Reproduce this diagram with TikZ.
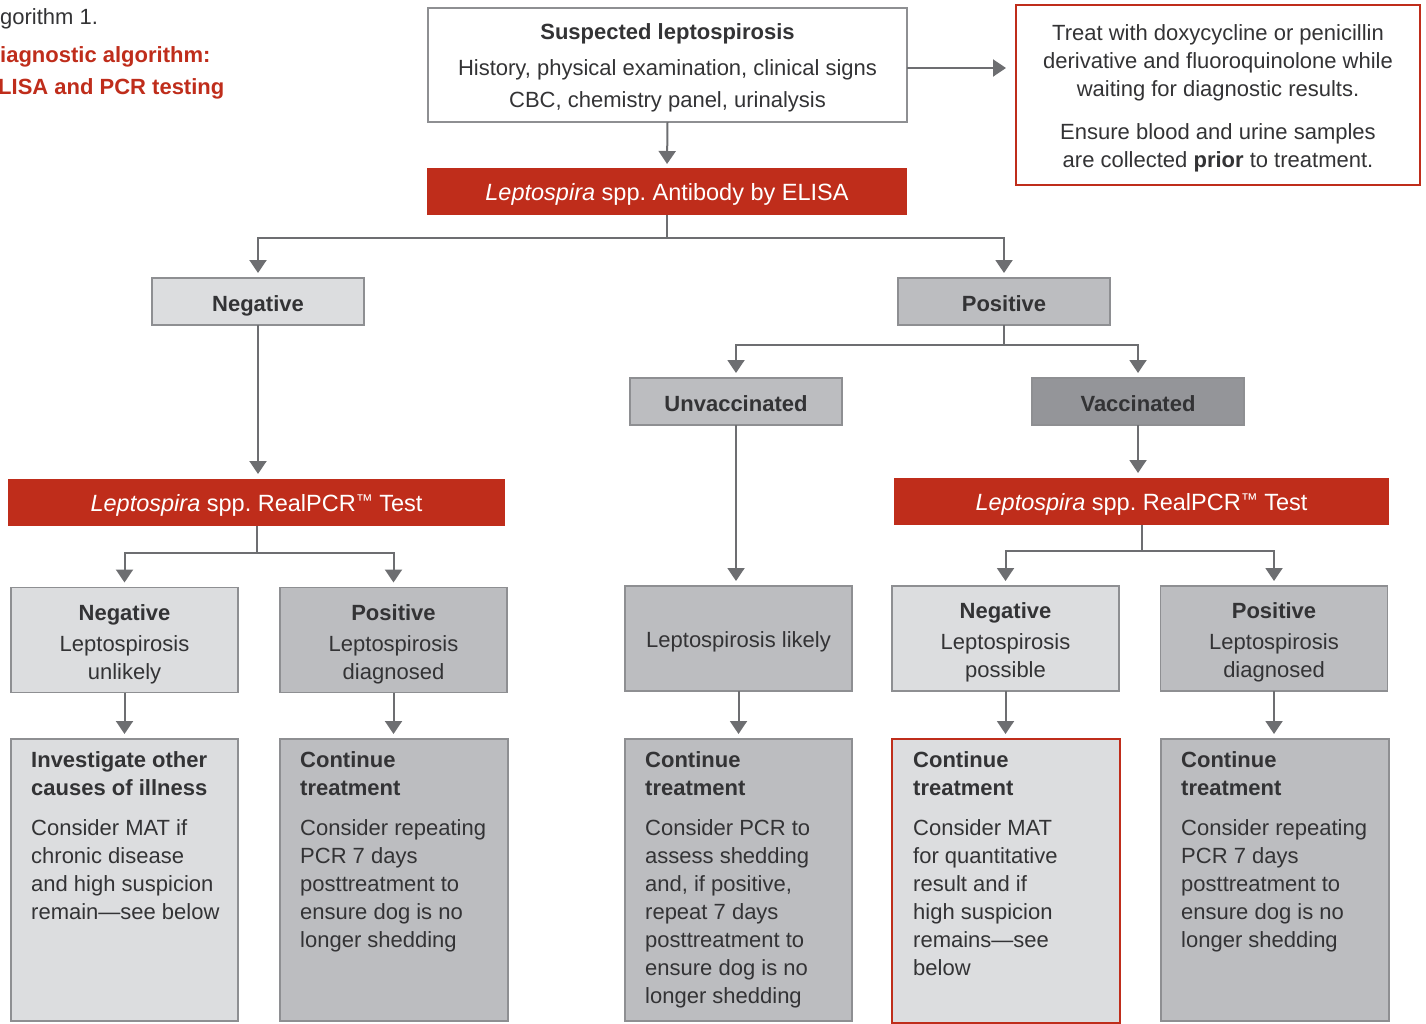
\documentclass[tikz,border=0pt]{standalone}
\usepackage{fontspec}
\setmainfont{Liberation Sans}
\usetikzlibrary{arrows.meta,calc}
\definecolor{ired}{HTML}{BF2D1B}
\definecolor{glight}{HTML}{DCDDDF}
\definecolor{gmid}{HTML}{BCBDC0}
\definecolor{gdark}{HTML}{949599}
\definecolor{bordc}{HTML}{8E8F92}
\definecolor{linec}{HTML}{6D6E71}
\definecolor{txt}{HTML}{333335}
\frenchspacing
\newcommand{\tmark}{{\fontsize{17pt}{17pt}\selectfont\raisebox{4.5pt}{™}}}
\begin{document}
\begin{tikzpicture}[x=1pt,y=-1pt,
  every node/.style={font=\fontsize{22pt}{28pt}\selectfont, text=txt},
  box/.style={draw=bordc, line width=1.5pt, inner sep=0pt, outer sep=0pt},
  redbox/.style={fill=ired, draw=none, inner sep=0pt, outer sep=0pt, text=white, font=\fontsize{23.5pt}{28pt}\selectfont},
  redframe/.style={draw=ired, line width=2pt, inner sep=0pt, outer sep=0pt},
  arr/.style={draw=linec, line width=2pt, -{Triangle[width=17pt,length=13pt]}, shorten >=5pt},
  plain/.style={draw=linec, line width=2pt},
  btxt/.style={anchor=north west, inner sep=0pt, align=left},
  ctxt/.style={inner sep=0pt, align=center},
  ltxt/.style={inner sep=0pt, anchor=base},
  rtxt/.style={inner sep=0pt, text=white, font=\fontsize{23.5pt}{28pt}\selectfont}
]
\useasboundingbox (0,0) rectangle (1426,1023);

% Title
\node[anchor=base west, inner sep=0pt] (t1) at (0,24) {gorithm 1.};
\node[anchor=base west, inner sep=0pt, text=ired, font=\fontsize{22pt}{28pt}\selectfont\bfseries] (t2) at (0,62) {iagnostic algorithm:};
\node[anchor=base west, inner sep=0pt, text=ired, font=\fontsize{22pt}{28pt}\selectfont\bfseries] (t3) at (-2,94) {LISA and PCR testing};

% Top
\node[box, fill=white, minimum width=479pt, minimum height=114pt] (susp) at (667.5,65) {};
\node[ctxt, font=\fontsize{22pt}{32pt}\selectfont] (susptxt) at (667.5,68) {\textbf{Suspected leptospirosis}\\[4pt]History, physical examination, clinical signs\\CBC, chemistry panel, urinalysis};

\node[redframe, fill=white, minimum width=404pt, minimum height=180pt] (treat) at (1218,95) {};
\node[ctxt] (treattxt) at (1218,98) {Treat with doxycycline or penicillin\\derivative and fluoroquinolone while\\waiting for diagnostic results.\\[15pt]Ensure blood and urine samples\\are collected \textbf{prior} to treatment.};

\node[redbox, minimum width=480pt, minimum height=47pt] (elisa) at (667,191.5) {};
\node[rtxt] (elisat) at (667,194) {\textit{Leptospira} spp. Antibody by ELISA};

% Level 1
\node[box, fill=glight, minimum width=212pt, minimum height=47pt] (neg1) at (258,301.5) {};
\node[ltxt] (neg1t) at (258,311) {\textbf{Negative}};
\node[box, fill=gmid, minimum width=212pt, minimum height=47pt] (pos1) at (1004,301.5) {};
\node[ltxt] (pos1t) at (1004,311) {\textbf{Positive}};

% Level 2
\node[box, fill=gmid, minimum width=212pt, minimum height=47pt] (unvac) at (736,401.5) {};
\node[ltxt] (unvact) at (736,411) {\textbf{Unvaccinated}};
\node[box, fill=gdark, minimum width=212pt, minimum height=47pt] (vac) at (1138,401.5) {};
\node[ltxt] (vact) at (1138,411) {\textbf{Vaccinated}};

% PCR boxes
\node[redbox, minimum width=497pt, minimum height=47pt] (pcrl) at (256.5,502.5) {};
\node[rtxt] (pcrlt) at (256.5,505) {\textit{Leptospira} spp. RealPCR\tmark\ Test};
\node[redbox, minimum width=495pt, minimum height=47pt] (pcrr) at (1141.5,501.5) {};
\node[rtxt] (pcrrt) at (1141.5,504) {\textit{Leptospira} spp. RealPCR\tmark\ Test};

% Row 3
\node[box, fill=glight, minimum width=227pt, minimum height=105pt] (r1) at (124.5,640) {};
\node[box, fill=gmid, minimum width=227pt, minimum height=105pt] (r2) at (393.5,640) {};
\node[box, fill=gmid, minimum width=227pt, minimum height=105pt] (r3) at (738.5,638.5) {};
\node[box, fill=glight, minimum width=227pt, minimum height=105pt] (r4) at (1005.5,638.5) {};
\node[box, fill=gmid, minimum width=227pt, minimum height=105pt] (r5) at (1274,638.5) {};

\node[ctxt] (r1t) at (124.5,644) {\textbf{Negative}\\[3pt]Leptospirosis\\unlikely};
\node[ctxt] (r2t) at (393.5,644) {\textbf{Positive}\\[3pt]Leptospirosis\\diagnosed};
\node[ctxt] (r3t) at (738.5,642) {Leptospirosis likely};
\node[ctxt] (r4t) at (1005.5,642) {\textbf{Negative}\\[3pt]Leptospirosis\\possible};
\node[ctxt] (r5t) at (1274,642) {\textbf{Positive}\\[3pt]Leptospirosis\\diagnosed};

% Row 4
\node[box, fill=glight, minimum width=227pt, minimum height=282pt, anchor=north west] (b1) at (11,739) {};
\node[box, fill=gmid, minimum width=228pt, minimum height=282pt, anchor=north west] (b2) at (280,739) {};
\node[box, fill=gmid, minimum width=227pt, minimum height=282pt, anchor=north west] (b3) at (625,739) {};
\node[redframe, fill=glight, minimum width=228pt, minimum height=284pt, anchor=north west] (b4) at (892,739) {};
\node[box, fill=gmid, minimum width=228pt, minimum height=282pt, anchor=north west] (b5) at (1161,739) {};

\node[btxt] (b1t) at ($(b1.north west)+(20,12)$) {\textbf{Investigate other}\\\textbf{causes of illness}\\[12pt]Consider MAT if\\chronic disease\\and high suspicion\\remain—see below};
\node[btxt] (b2t) at ($(b2.north west)+(20,12)$) {\textbf{Continue}\\\textbf{treatment}\\[12pt]Consider repeating\\PCR 7 days\\posttreatment to\\ensure dog is no\\longer shedding};
\node[btxt] (b3t) at ($(b3.north west)+(20,12)$) {\textbf{Continue}\\\textbf{treatment}\\[12pt]Consider PCR to\\assess shedding\\and, if positive,\\repeat 7 days\\posttreatment to\\ensure dog is no\\longer shedding};
\node[btxt] (b4t) at ($(b4.north west)+(21,12)$) {\textbf{Continue}\\\textbf{treatment}\\[12pt]Consider MAT\\for quantitative\\result and if\\high suspicion\\remains—see\\below};
\node[btxt] (b5t) at ($(b5.north west)+(20,12)$) {\textbf{Continue}\\\textbf{treatment}\\[12pt]Consider repeating\\PCR 7 days\\posttreatment to\\ensure dog is no\\longer shedding};

% Connectors
\draw[arr, shorten >=4pt] (susp.south) -- (elisa.north);
\coordinate (tr) at (susp.east |- 0,68);
\draw[arr, shorten >=10pt] (tr) -- (tr -| treat.west);

\coordinate (j1) at (elisa.south |- 0,238);
\draw[plain] (elisa.south) -- (j1);
\draw[arr] (j1) -| (neg1.north);
\draw[arr] (j1) -| (pos1.north);

\draw[arr] (neg1.south) -- (neg1.south |- pcrl.north);

\coordinate (j2) at (pos1.south |- 0,345);
\draw[plain] (pos1.south) -- (j2);
\draw[arr] (j2) -| (unvac.north);
\draw[arr] (j2) -| (vac.north);

\draw[arr] (unvac.south) -- (unvac.south |- r3.north);
\draw[arr] (vac.south) -- (vac.south |- pcrr.north);

\coordinate (j3) at (pcrl.south |- 0,553);
\draw[plain] (pcrl.south) -- (j3);
\draw[arr] (j3) -| (r1.north);
\draw[arr] (j3) -| (r2.north);

\coordinate (j4) at (pcrr.south |- 0,551);
\draw[plain] (pcrr.south) -- (j4);
\draw[arr] (j4) -| (r4.north);
\draw[arr] (j4) -| (r5.north);

\draw[arr] (r1.south) -- (r1.south |- b1.north);
\draw[arr] (r2.south) -- (r2.south |- b2.north);
\draw[arr] (r3.south) -- (r3.south |- b3.north);
\draw[arr] (r4.south) -- (r4.south |- b4.north);
\draw[arr] (r5.south) -- (r5.south |- b5.north);
\end{tikzpicture}
\end{document}
